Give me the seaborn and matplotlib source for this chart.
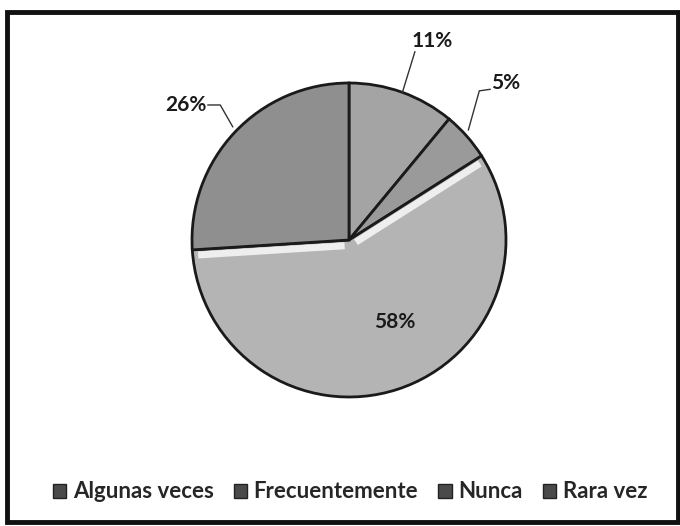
import matplotlib
matplotlib.use("Agg")
import matplotlib.pyplot as plt
from matplotlib.patches import Rectangle
from matplotlib.lines import Line2D
import numpy as np
import seaborn as sns

# data
categorias = ["Algunas veces", "Frecuentemente", "Nunca", "Rara vez"]
porcentajes = [11, 5, 58, 26]
etiquetas = ["11%", "5%", "58%", "26%"]

sns.set_theme(style="white")
plt.rcParams["font.family"] = ["Lato", "DejaVu Sans"]

colores = ["#a4a4a4", "#9a9a9a", "#b4b4b4", "#8f8f8f"]

fig = plt.figure(figsize=(6.8, 5.26), dpi=100)
fig.patch.set_facecolor("white")

# outer frame of the chart
fig.patches.append(Rectangle((7 / 680, 1 - 522 / 526), 671 / 680, 510 / 526,
                             transform=fig.transFigure, fill=False,
                             edgecolor="#111111", linewidth=3.5))

ax = fig.add_axes([192 / 680, 1 - 397 / 526, 314 / 680, 314 / 526])
wedges, _ = ax.pie(porcentajes, colors=colores, startangle=90, counterclock=False,
                   wedgeprops=dict(edgecolor="#1a1a1a", linewidth=2))
ax.set_xlim(-1, 1)
ax.set_ylim(-1, 1)
ax.set_aspect("equal")
ax.axis("off")

# light bevel along the straight edges of the Nunca slice (shifted inside it)
nunca = wedges[2]
d = 0.035
for ang, perp in [(nunca.theta2, nunca.theta2 - 90), (nunca.theta1, nunca.theta1 + 90)]:
    a, p = np.deg2rad(ang), np.deg2rad(perp)
    ox, oy = d * np.cos(p), d * np.sin(p)
    ax.add_line(Line2D([ox + 0.03 * np.cos(a), ox + 0.965 * np.cos(a)],
                       [oy + 0.03 * np.sin(a), oy + 0.965 * np.sin(a)],
                       color="#eeeeee", linewidth=5, solid_capstyle="butt"))

# label positions (data coords) and leader line points
posiciones = {
    "11%": ((0.53, 1.27), [(0.34, 0.94), (0.42, 1.20)]),
    "5%": ((1.00, 1.00), [(0.76, 0.70), (0.83, 0.95), (0.90, 0.96)]),
    "26%": ((-1.04, 0.86), [(-0.74, 0.72), (-0.82, 0.86), (-0.90, 0.86)]),
    "58%": ((0.29, -0.52), None),
}
for lab in etiquetas:
    (x, y), linea = posiciones[lab]
    ax.text(x, y, lab, ha="center", va="center", fontsize=15, fontweight="bold",
            color="#1a1a1a", clip_on=False)
    if linea:
        xs, ys = zip(*linea)
        ax.add_line(Line2D(xs, ys, color="#333333", linewidth=1, clip_on=False))

handles = [Rectangle((0, 0), 1, 1, facecolor="#4a4a4a", edgecolor="#222222")
           for _ in categorias]
fig.legend(handles, categorias, loc="center", bbox_to_anchor=(350 / 680, 1 - 492 / 526),
           ncol=4, frameon=False, prop=dict(size=16, weight="bold"),
           handlelength=0.6, handleheight=0.6, handletextpad=0.3, columnspacing=0.9)

fig.savefig("out.png", dpi=100)
